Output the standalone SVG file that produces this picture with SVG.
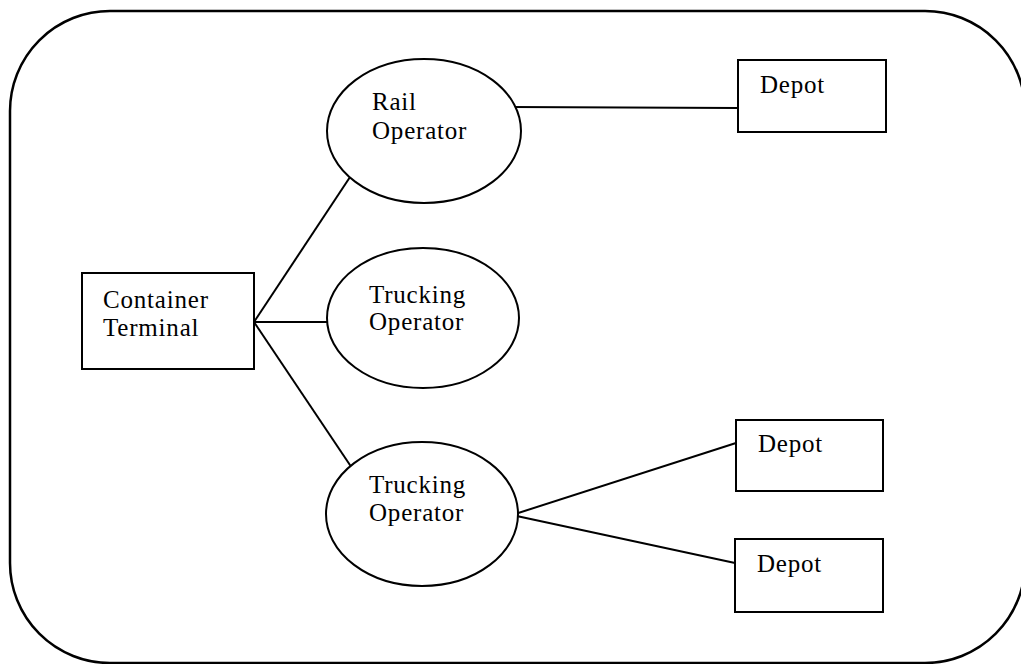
<svg xmlns="http://www.w3.org/2000/svg" width="1021" height="664" viewBox="0 0 1021 664">
  <style>
    .frame { fill: none; stroke: #000; stroke-width: 2.5; }
    .box { fill: #fff; stroke: #000; stroke-width: 2; }
    .oval { fill: #fff; stroke: #000; stroke-width: 2; }
    .link { stroke: #000; stroke-width: 2; fill: none; }
    .label { font-family: "Liberation Serif", "Times New Roman", serif; font-size: 25px; letter-spacing: 0.8px; fill: #000; }
  </style>
  <rect width="1021" height="664" fill="#fff"/>

  <!-- outer boundary -->
  <rect class="frame" x="10" y="11" width="1015" height="652" rx="100" ry="100"/>

  <!-- connectors (drawn beneath the white-filled nodes) -->
  <g id="connectors">
    <line class="link" x1="254" y1="322" x2="356" y2="168"/>
    <line class="link" x1="254" y1="322" x2="335" y2="322"/>
    <line class="link" x1="254" y1="322" x2="356" y2="474"/>
    <line class="link" x1="510" y1="107" x2="738" y2="108"/>
    <line class="link" x1="512" y1="515" x2="736" y2="443"/>
    <line class="link" x1="512" y1="515" x2="735" y2="563"/>
  </g>

  <g id="container-terminal">
    <rect class="box" x="82" y="273" width="172" height="96"/>
    <text class="label" x="103" y="308">Container</text>
    <text class="label" x="103" y="336">Terminal</text>
  </g>

  <g id="rail-operator">
    <ellipse class="oval" cx="424" cy="131" rx="97" ry="72"/>
    <text class="label" x="372" y="110">Rail</text>
    <text class="label" x="372" y="139">Operator</text>
  </g>

  <g id="trucking-operator-1">
    <ellipse class="oval" cx="423" cy="318" rx="96" ry="70"/>
    <text class="label" x="369" y="303">Trucking</text>
    <text class="label" x="369" y="330">Operator</text>
  </g>

  <g id="trucking-operator-2">
    <ellipse class="oval" cx="422" cy="514" rx="96" ry="72"/>
    <text class="label" x="369" y="493">Trucking</text>
    <text class="label" x="369" y="521">Operator</text>
  </g>

  <g id="depot-1">
    <rect class="box" x="738" y="60" width="148" height="72"/>
    <text class="label" x="760" y="93">Depot</text>
  </g>

  <g id="depot-2">
    <rect class="box" x="736" y="420" width="147" height="71"/>
    <text class="label" x="758" y="452">Depot</text>
  </g>

  <g id="depot-3">
    <rect class="box" x="735" y="539" width="148" height="73"/>
    <text class="label" x="757" y="572">Depot</text>
  </g>
</svg>
